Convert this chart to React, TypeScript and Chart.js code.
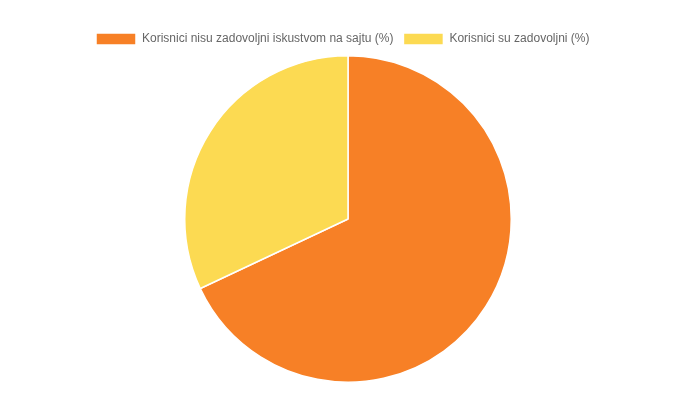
import React, { useEffect, useRef } from 'react';
import { Chart, registerables } from 'chart.js';

Chart.register(...registerables);

const labels = ['Korisnici nisu zadovoljni iskustvom na sajtu (%)', 'Korisnici su zadovoljni (%)'];
const values = [68, 32];
const colors = ['#F78026', '#FCDA52'];

const App: React.FC = () => {
  const chartRef = useRef<HTMLCanvasElement>(null);
  const chartInstance = useRef<Chart | null>(null);

  useEffect(() => {
    document.body.style.margin = '0';
    if (chartRef.current) {
      const ctx = chartRef.current.getContext('2d');
      if (ctx) {
        chartInstance.current = new Chart(ctx, {
          type: 'pie',
          data: {
            labels,
            datasets: [{
              data: values,
              backgroundColor: colors,
              borderColor: '#ffffff',
              borderWidth: 1.5
            }]
          },
          options: {
            responsive: true,
            maintainAspectRatio: false,
            animation: false,
            layout: {
              padding: { top: 23, bottom: 27, left: 86, right: 90 }
            },
            plugins: {
              legend: {
                position: 'top',
                align: 'start',
                labels: {
                  boxWidth: 40,
                  boxHeight: 12,
                  color: '#666',
                  font: { family: '"Liberation Sans", Arial, sans-serif', size: 12 }
                }
              },
              tooltip: { enabled: false }
            }
          }
        });
      }
    }
    return () => {
      if (chartInstance.current) {
        chartInstance.current.destroy();
        chartInstance.current = null;
      }
    };
  }, []);

  return (
    <div style={{ width: 700, height: 410, position: 'relative' }}>
      <canvas ref={chartRef}></canvas>
    </div>
  );
};

export default App;
